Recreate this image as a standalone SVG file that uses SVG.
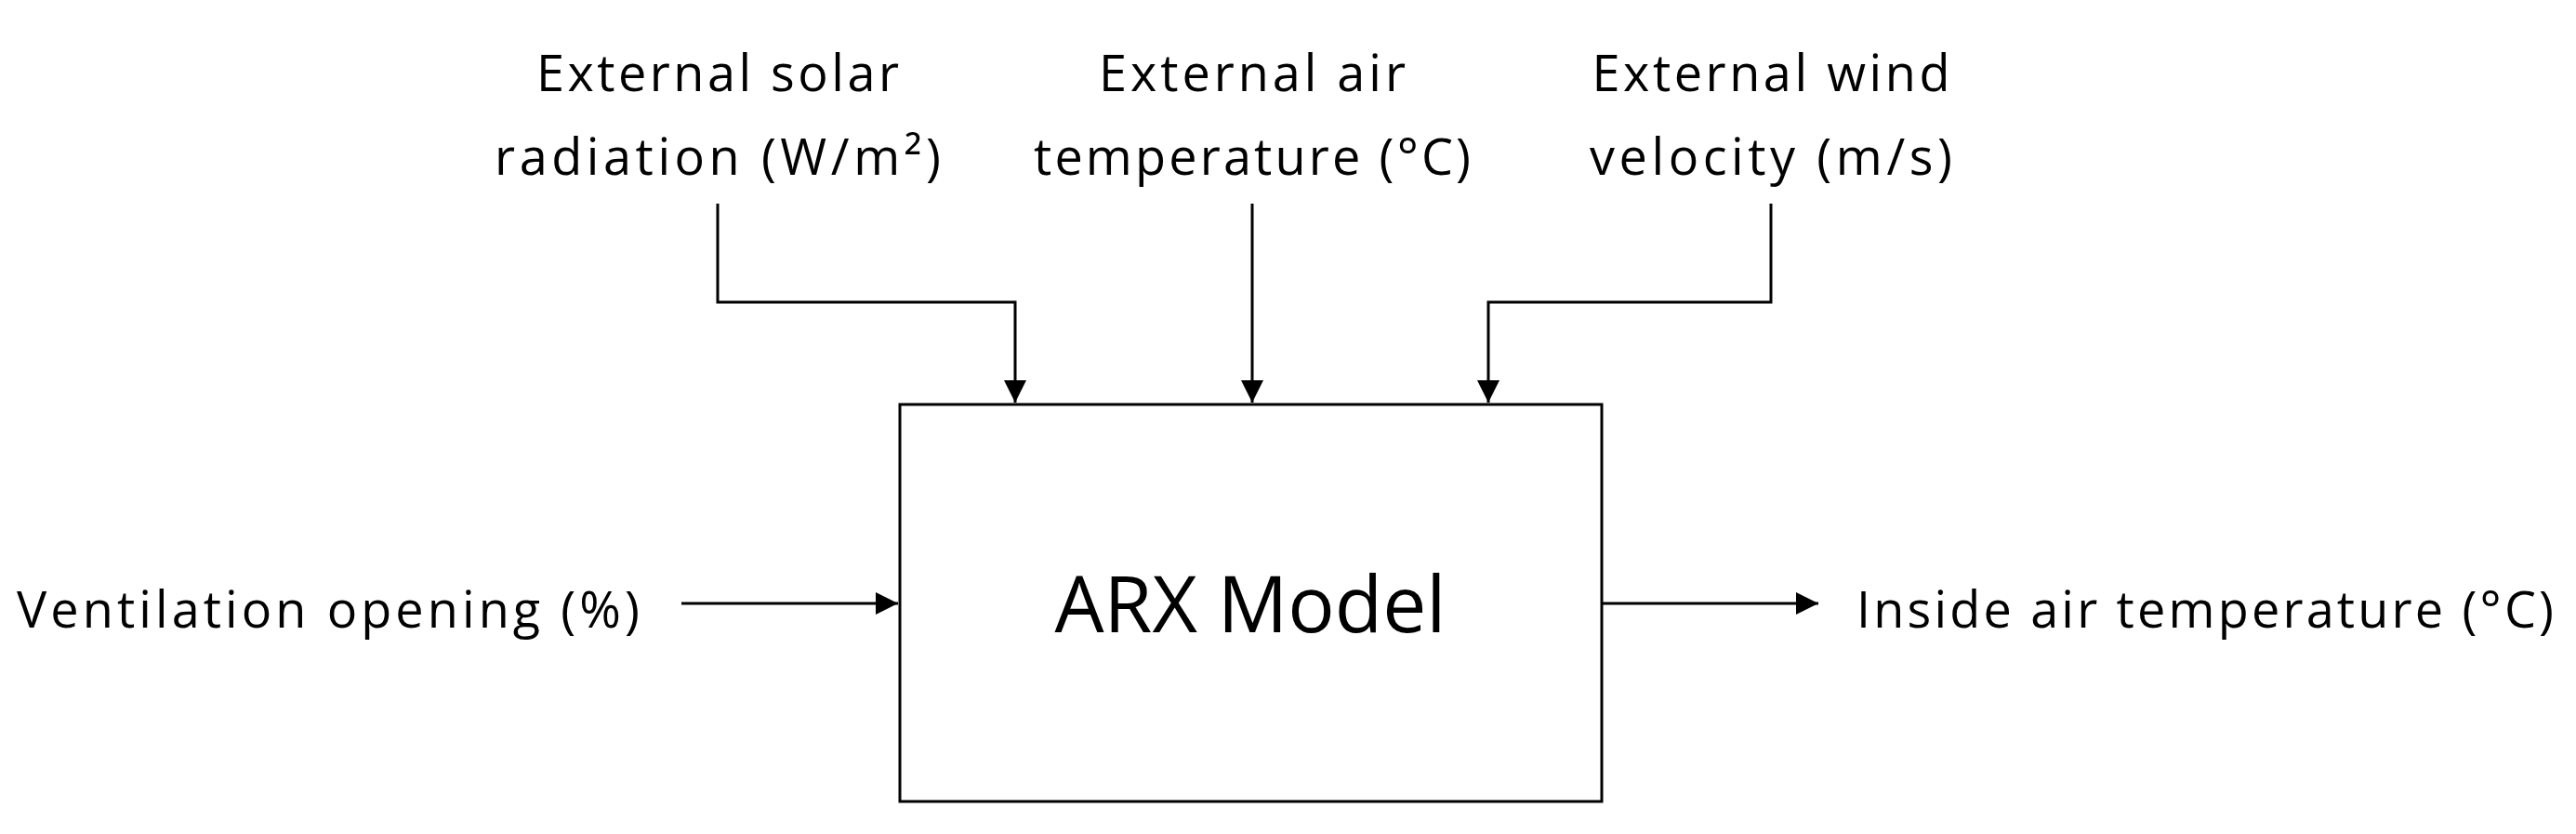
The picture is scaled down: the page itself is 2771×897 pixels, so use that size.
<svg xmlns="http://www.w3.org/2000/svg" width="2771" height="897" viewBox="0 0 2771 897">
<defs>
<style>
text{font-family:"Open Sans","Liberation Sans",sans-serif;fill:#000;font-size:54px}
.c{stroke:#000;stroke-width:3;fill:none}
</style>
<marker id="a" markerWidth="8" markerHeight="8" refX="8" refY="4" orient="auto" markerUnits="strokeWidth"><path d="M0,0L8,4L0,8z" fill="#000"/></marker>
</defs>
<rect width="2771" height="897" fill="#fff"/>
<g id="model"><rect x="968" y="435" width="755" height="427" fill="#fff" stroke="#000" stroke-width="3"/>
<text x="1345" y="680" text-anchor="middle" style="font-size:84px">ARX Model</text></g>
<g id="solar"><text x="772" y="98" text-anchor="middle" textLength="390">External solar</text><text x="772" y="188" text-anchor="middle" textLength="480">radiation (W/m²)</text></g>
<g id="air"><text x="1347" y="98" text-anchor="middle" textLength="330">External air</text><text x="1347" y="188" text-anchor="middle" textLength="470">temperature (°C)</text></g>
<g id="wind"><text x="1905" y="98" text-anchor="middle" textLength="385">External wind</text><text x="1905" y="188" text-anchor="middle" textLength="390">velocity (m/s)</text></g>
<g id="vent"><text x="18" y="675" textLength="670">Ventilation opening (%)</text></g>
<g id="inside"><text x="1997" y="675" textLength="750">Inside air temperature (°C)</text></g>
<g id="connectors">
<path class="c" d="M772,219V325H1092V433" marker-end="url(#a)"/>
<path class="c" d="M1347,219V433" marker-end="url(#a)"/>
<path class="c" d="M1905,219V325H1601V433" marker-end="url(#a)"/>
<path class="c" d="M733,649H966" marker-end="url(#a)"/>
<path class="c" d="M1723,649H1956" marker-end="url(#a)"/>
</g>
</svg>
